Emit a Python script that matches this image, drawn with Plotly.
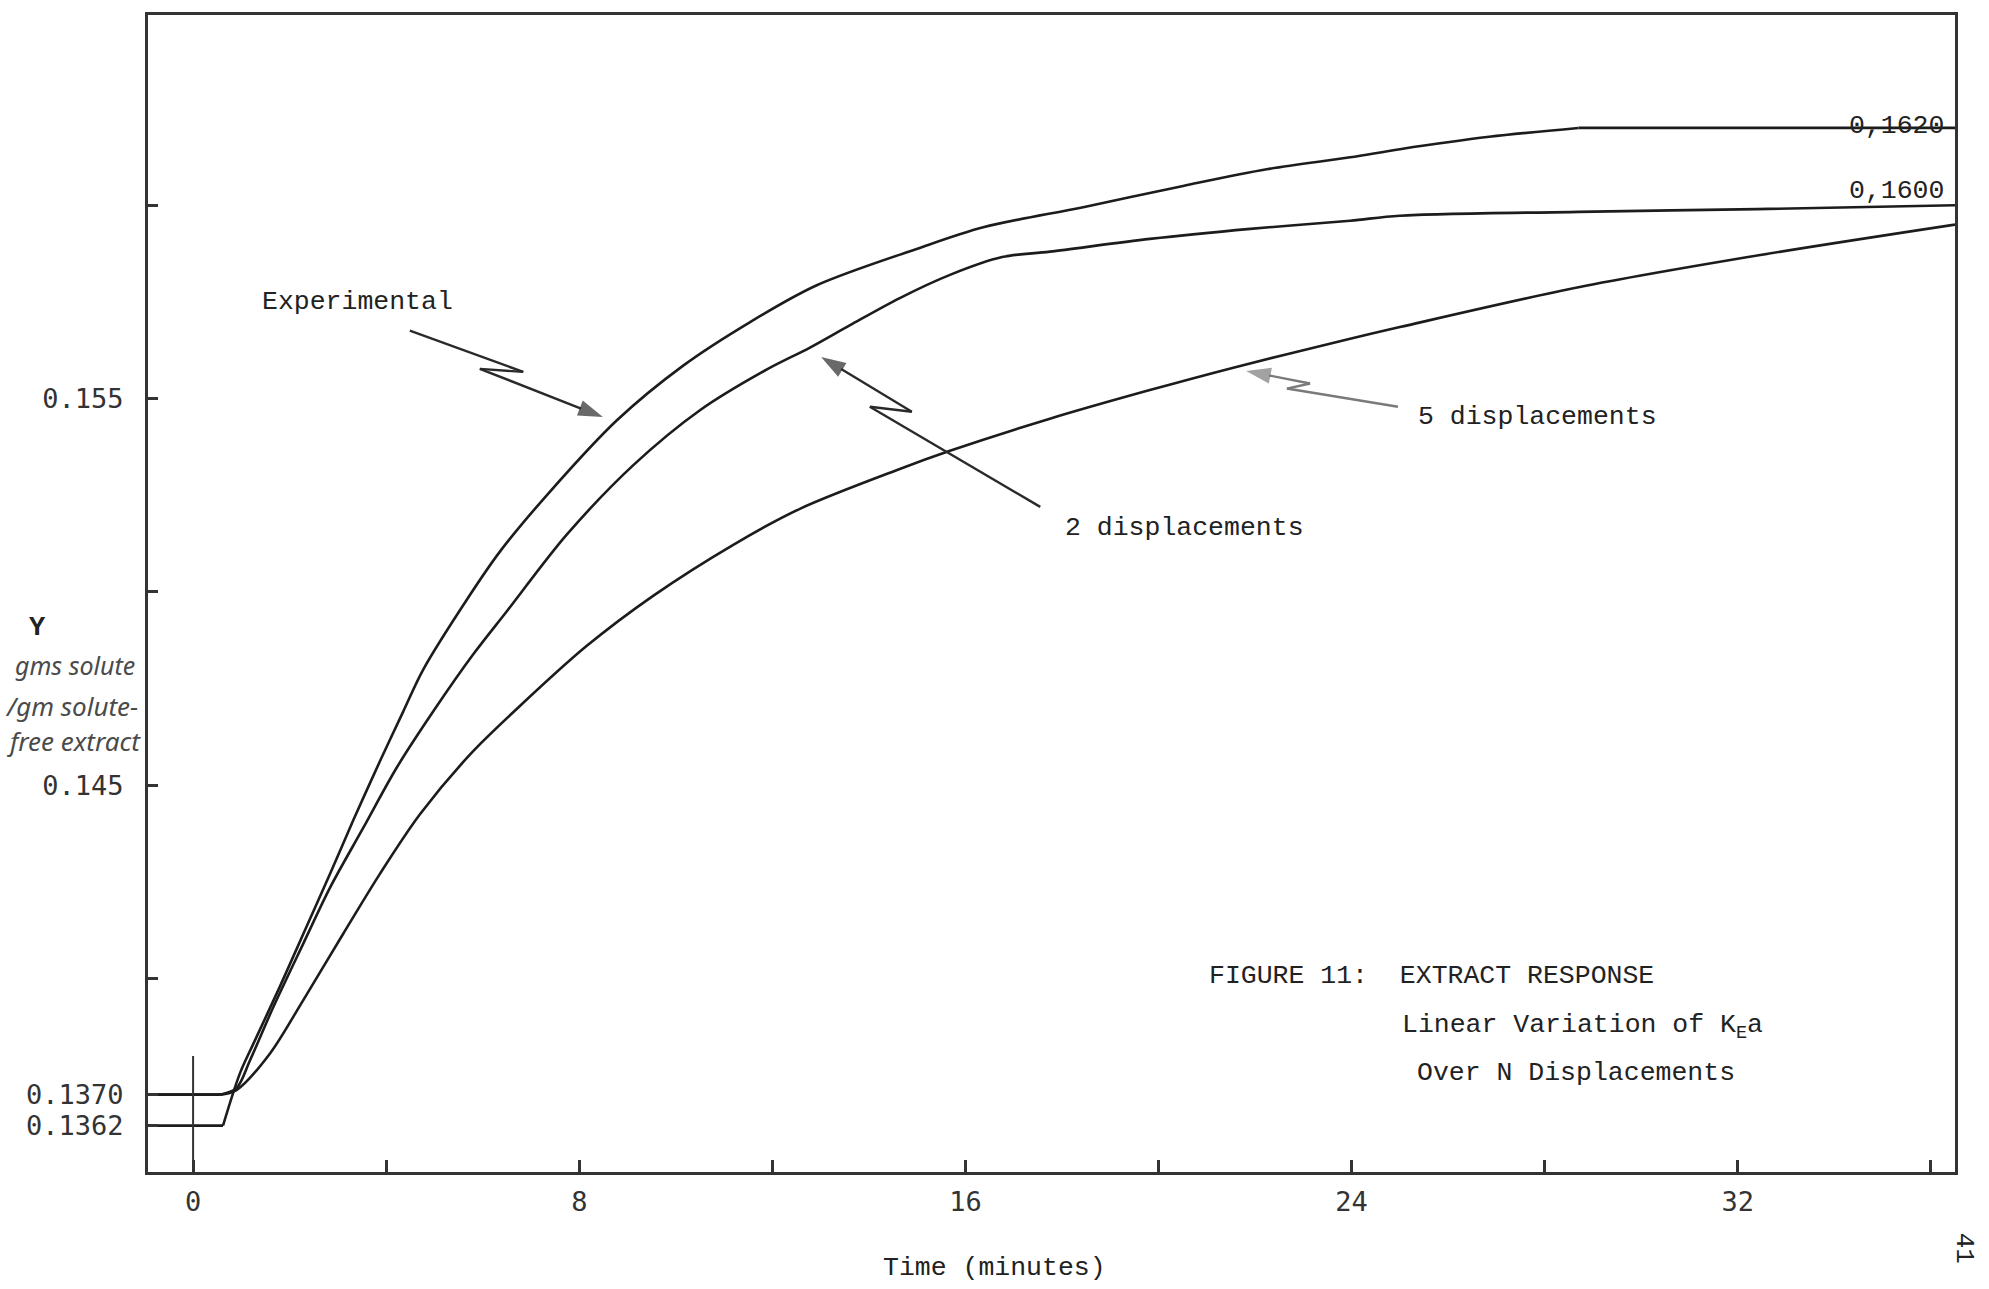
import plotly.graph_objects as go

# ---------------- data ----------------
time_exp = [-0.93, 0.62, 0.97, 1.25, 1.80, 2.28, 2.84, 3.32, 3.87, 4.35, 4.77, 5.67, 6.36,
            7.39, 8.78, 10.16, 11.54, 12.92, 14.99, 16.37, 18.44, 20.51, 22.24, 23.97,
            25.00, 26.85, 28.70, 36.50]
y_exp = [0.1362, 0.1362, 0.13755, 0.13832, 0.13980, 0.14115, 0.14272, 0.14410, 0.14562,
         0.14690, 0.14800, 0.14980, 0.15105, 0.15259, 0.15444, 0.15586, 0.15698, 0.15793,
         0.15887, 0.15943, 0.15995, 0.16050, 0.16093, 0.16124, 0.16145, 0.16177, 0.1620,
         0.1620]

time_2 = [-0.93, 0.56, 0.90, 1.18, 1.66, 2.28, 2.84, 3.53, 4.22, 4.98, 5.80, 6.50, 7.74,
          9.12, 10.50, 11.88, 12.78, 13.61, 14.64, 15.68, 16.76, 17.75, 19.82, 21.90,
          23.97, 25.00, 28.70, 32.40, 36.50]
y_2 = [0.1370, 0.1370, 0.13717, 0.13789, 0.13926, 0.14090, 0.14236, 0.14391, 0.14546,
       0.14692, 0.14838, 0.14950, 0.15148, 0.15328, 0.15470, 0.15575, 0.15632, 0.15690,
       0.15760, 0.15820, 0.15866, 0.15880, 0.15913, 0.15939, 0.15960, 0.15973, 0.15983,
       0.15990, 0.1600]

time_5 = [-0.93, 0.56, 0.90, 1.59, 2.28, 3.11, 3.87, 4.70, 5.74, 6.77, 8.15, 9.53, 11.19,
          12.57, 14.64, 15.68, 17.75, 19.82, 21.55, 23.97, 25.00, 28.70, 32.40, 36.50]
y_5 = [0.1370, 0.1370, 0.13712, 0.13806, 0.13944, 0.14116, 0.14271, 0.14425, 0.14580,
       0.14705, 0.14860, 0.14990, 0.15122, 0.15215, 0.15318, 0.15365, 0.15448, 0.15522,
       0.15580, 0.15655, 0.15685, 0.15788, 0.15870, 0.15950]

# zero-time marker
zero_x = [0, 0]
zero_y = [0.135, 0.138]

# lightning-bolt pointer arrows: [tail, zig1, zig2, tip]
arrow_exp_x = [4.49, 6.84, 5.94, 8.74]
arrow_exp_y = [0.15676, 0.15569, 0.15577, 0.15440]
arrow_2_x = [17.55, 14.02, 14.89, 12.78]
arrow_2_y = [0.15220, 0.15479, 0.15466, 0.15625]
arrow_5_x = [24.96, 22.66, 23.14, 21.55]
arrow_5_y = [0.15479, 0.15526, 0.15539, 0.15578]

x_tickvals = [0, 8, 16, 24, 32]
x_ticktext = ["0", "8", "16", "24", "32"]
y_tickvals = [0.1362, 0.1370, 0.145, 0.155]
y_ticktext = ["0.1362", "0.1370", "0.145", "0.155"]

# ---------------- figure ----------------
INK = "#1c1c1c"
TYPE_FONT = "Liberation Mono, Courier New, monospace"
TICK_FONT = "DejaVu Sans Mono, monospace"

fig = go.Figure()


def add_curve(xs, ys):
    """Flat start / flat end drawn straight, the rise drawn as a smooth spline."""
    start = 1
    end = len(xs) - 1
    if ys[-1] == ys[-2]:
        end = len(xs) - 2
    fig.add_trace(go.Scatter(x=xs[:start + 1], y=ys[:start + 1], mode="lines",
                             line=dict(color=INK, width=2.6), hoverinfo="skip"))
    fig.add_trace(go.Scatter(x=xs[start:end + 1], y=ys[start:end + 1], mode="lines",
                             line=dict(color=INK, width=2.6, shape="spline", smoothing=0.9),
                             hoverinfo="skip"))
    if end < len(xs) - 1:
        fig.add_trace(go.Scatter(x=xs[end:], y=ys[end:], mode="lines",
                                 line=dict(color=INK, width=2.6), hoverinfo="skip"))


for xs, ys in [(time_exp, y_exp), (time_2, y_2), (time_5, y_5)]:
    add_curve(xs, ys)

fig.add_trace(go.Scatter(x=zero_x, y=zero_y, mode="lines",
                         line=dict(color="#333333", width=2), hoverinfo="skip"))

arrows = [(arrow_exp_x, arrow_exp_y, "#2a2a2a"),
          (arrow_2_x, arrow_2_y, "#2a2a2a"),
          (arrow_5_x, arrow_5_y, "#7a7a7a")]
for ax_, ay_, col in arrows:
    fig.add_trace(go.Scatter(
        x=ax_, y=ay_, mode="lines+markers",
        line=dict(color=col, width=2.4),
        marker=dict(symbol="arrow", size=[0, 0, 0, 26], color=col,
                    angleref="previous", standoff=[0, 0, 0, 13], line=dict(width=0)),
        hoverinfo="skip"))


def label(text, x, y, size=26.5, xanchor="left", color="#222222", font=TYPE_FONT,
          xref="x", yref="y", angle=0):
    fig.add_annotation(x=x, y=y, xref=xref, yref=yref, text=text, showarrow=False,
                       xanchor=xanchor, yanchor="middle", textangle=angle,
                       font=dict(family=font, size=size, color=color))


label("Experimental", 1.39, 0.15749)
label("2 displacements", 18.03, 0.15165)
label("5 displacements", 25.33, 0.15453)
label("0,1620", 36.32, 0.16205, size=26.5, xanchor="right")
label("0,1600", 36.32, 0.16038, size=26.5, xanchor="right")
label("FIGURE 11:\u00a0\u00a0EXTRACT RESPONSE", 21.0, 0.14008)
label("Linear Variation of K<sub>E</sub>a", 25.0, 0.13875)
label("Over N Displacements", 25.31, 0.13755)

label("Time (minutes)", 0.4687, -0.0828, xanchor="center", xref="paper", yref="paper")
label("<b>Y</b>", -0.0609, 0.4700, size=27, xanchor="center", xref="paper", yref="paper")
HAND = "Noto Sans, sans-serif"
label("<i>gms solute</i>", -0.0404, 0.4380, size=25, xanchor="center", color="#4a4a4a",
      font=HAND, xref="paper", yref="paper")
label("<i>/gm solute-</i>", -0.0423, 0.4026, size=26, xanchor="center", color="#4a4a4a",
      font=HAND, xref="paper", yref="paper")
label("<i>free extract</i>", -0.0407, 0.3724, size=26, xanchor="center", color="#4a4a4a",
      font=HAND, xref="paper", yref="paper")
label("41", 1.0048, -0.066, size=26, xanchor="center", xref="paper", yref="paper", angle=90)

axis_common = dict(showline=True, linewidth=3, linecolor="#333333", mirror=True,
                   ticks="inside", tickwidth=2.5, tickcolor="#333333",
                   showgrid=False, zeroline=False,
                   tickfont=dict(family=TICK_FONT, size=27, color="#333333"))

fig.update_xaxes(range=[-0.934, 36.5], tickmode="array", tickvals=x_tickvals,
                 ticktext=x_ticktext, ticklen=12, ticklabelstandoff=4,
                 minor=dict(tick0=0, dtick=4, ticks="inside", ticklen=12, tickwidth=2.5,
                            tickcolor="#333333", showgrid=False),
                 **axis_common)
fig.update_yaxes(range=[0.135, 0.16492], tickmode="array", tickvals=y_tickvals,
                 ticktext=y_ticktext, ticklen=10, ticklabelstandoff=16,
                 minor=dict(tick0=0.135, dtick=0.005, ticks="inside", ticklen=10,
                            tickwidth=2.5, tickcolor="#333333", showgrid=False),
                 **axis_common)

fig.update_layout(width=1989, height=1289, margin=dict(l=148, r=34, t=12, b=117),
                  plot_bgcolor="white", paper_bgcolor="white", showlegend=False)

fig.write_html("out.html")
